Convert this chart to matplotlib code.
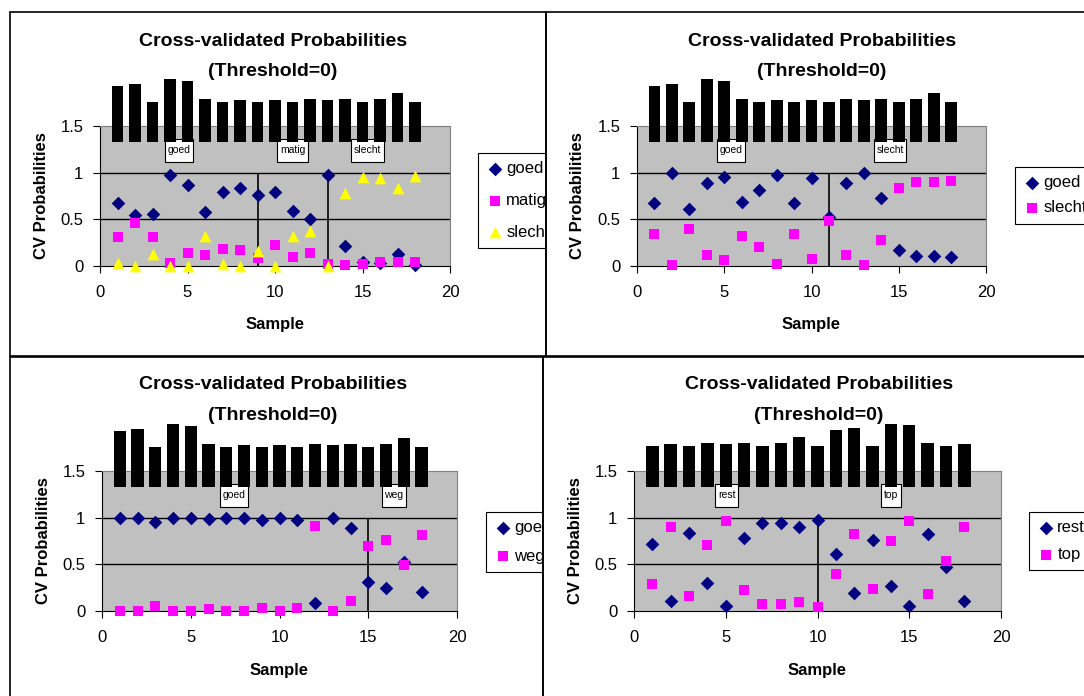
import numpy as np
import matplotlib.pyplot as plt
from matplotlib.patches import Rectangle
from matplotlib.path import Path

plt.rcParams['font.family'] = ['Liberation Sans', 'DejaVu Sans']

# sample numbers 1..18
samples = np.arange(1, 19)

# black blocks above each plot (sample name labels, rendered as black)
bar_base = 1.33
bar_top_a = [1.93, 1.95, 1.76, 2.0, 1.98, 1.79, 1.76, 1.78, 1.76,
             1.78, 1.76, 1.79, 1.78, 1.79, 1.76, 1.79, 1.85, 1.76]
bar_top_d = [1.77, 1.79, 1.77, 1.80, 1.79, 1.80, 1.77, 1.80, 1.86,
             1.77, 1.94, 1.96, 1.77, 2.0, 1.99, 1.80, 1.77, 1.79]

# chart 1: goed / matig / slecht
c1_goed = [0.67, 0.55, 0.56, 0.98, 0.87, 0.58, 0.79, 0.84, 0.76,
           0.79, 0.59, 0.50, 0.98, 0.21, 0.04, 0.035, 0.13, 0.01]
c1_matig = [0.31, 0.46, 0.31, 0.035, 0.14, 0.12, 0.18, 0.17, 0.085,
            0.22, 0.10, 0.14, 0.025, 0.01, 0.02, 0.04, 0.04, 0.04]
c1_slecht = [0.035, 0.0, 0.13, 0.0, 0.0, 0.32, 0.025, 0.0, 0.16,
             0.0, 0.32, 0.38, 0.0, 0.78, 0.95, 0.94, 0.84, 0.96]

# chart 2: goed / slecht
c2_goed = [0.67, 1.0, 0.61, 0.89, 0.95, 0.69, 0.81, 0.98, 0.67,
           0.94, 0.53, 0.89, 1.0, 0.73, 0.17, 0.11, 0.11, 0.10]
c2_slecht = [0.34, 0.01, 0.40, 0.12, 0.06, 0.32, 0.20, 0.025, 0.34,
             0.075, 0.48, 0.12, 0.01, 0.28, 0.84, 0.90, 0.90, 0.91]

# chart 3: goed / weg
c3_goed = [1.0, 1.0, 0.95, 1.0, 1.0, 0.985, 1.0, 1.0, 0.97,
           1.0, 0.97, 0.09, 1.0, 0.89, 0.31, 0.25, 0.525, 0.20]
c3_weg = [0.0, 0.0, 0.05, 0.0, 0.0, 0.02, 0.0, 0.0, 0.035,
          0.0, 0.035, 0.91, 0.0, 0.11, 0.70, 0.76, 0.49, 0.81]

# chart 4: rest / top
c4_rest = [0.72, 0.11, 0.84, 0.30, 0.05, 0.78, 0.94, 0.94, 0.90,
           0.975, 0.61, 0.19, 0.76, 0.27, 0.05, 0.83, 0.47, 0.11]
c4_top = [0.29, 0.90, 0.16, 0.71, 0.96, 0.225, 0.07, 0.07, 0.10,
          0.04, 0.40, 0.825, 0.24, 0.75, 0.96, 0.18, 0.54, 0.90]

W, H = 1084, 696
fig = plt.figure(figsize=(W / 100, H / 100), dpi=100)


def px_axes(left, right, top, bottom):
    return fig.add_axes([left / W, 1 - bottom / H, (right - left) / W, (bottom - top) / H])


def tall_box(x0, y0, width, height, mutation_size):
    px = 0.25 * mutation_size
    py = 0.6 * mutation_size
    x0, y0 = x0 - px, y0 - py
    x1, y1 = x0 + width + 2 * px, y0 + height + 2 * py
    return Path([(x0, y0), (x1, y0), (x1, y1), (x0, y1), (x0, y0)],
                [Path.MOVETO, Path.LINETO, Path.LINETO, Path.LINETO, Path.CLOSEPOLY])


MARK = {
    'D': dict(marker='D', color='#000080', s=48),
    's': dict(marker='s', color='#FF00FF', s=48),
    '^': dict(marker='^', color='#FFFF00', s=72),
}


def chart(rect, series, bar_top, groups, splits, legend_at, clip, title_x, title_y):
    ax = px_axes(*rect)
    ax.set_facecolor('#C0C0C0')
    ax.set_xlim(0, 20)
    ax.set_ylim(0, 1.5)
    ax.set_xticks([0, 5, 10, 15, 20])
    ax.set_yticks([0, 0.5, 1, 1.5])
    ax.set_yticklabels(['0', '0.5', '1', '1.5'])
    ax.tick_params(axis='both', labelsize=12, length=5, direction='out', color='black')
    ax.tick_params(axis='x', pad=9)
    ax.tick_params(axis='y', pad=7)
    for sp in ['top', 'right']:
        ax.spines[sp].set_color('#808080')
    for sp in ['left', 'bottom']:
        ax.spines[sp].set_color('black')
    ax.axhline(0.5, color='black', lw=1, zorder=1)
    ax.axhline(1.0, color='black', lw=1, zorder=1)
    ax.vlines(splits, 0, 1, color='black', lw=1.2, zorder=1)

    for name, vals, m in series:
        st = MARK[m]
        ax.scatter(samples, vals, marker=st['marker'], s=st['s'], color=st['color'],
                   linewidths=0, label=name, zorder=3, clip_on=False)

    bars = ax.bar(samples, np.array(bar_top) - bar_base, bottom=bar_base, width=0.68,
                  color='black', zorder=6)
    for b in bars:
        b.set_clip_on(False)

    for name, gx in groups:
        ax.text(gx, 1.24, name, ha='center', va='center', fontsize=7.5, zorder=5,
                bbox=dict(boxstyle=tall_box, fc='white', ec='black', lw=0.8))

    leg = ax.legend(loc='upper left', bbox_to_anchor=(legend_at[0] / W, 1 - legend_at[1] / H),
                    bbox_transform=fig.transFigure, fontsize=12, frameon=True,
                    fancybox=False, edgecolor='black', framealpha=1, borderpad=0.5,
                    labelspacing=legend_at[2], handletextpad=0.2, handlelength=1.0,
                    borderaxespad=0, scatterpoints=1)
    leg.get_frame().set_linewidth(0.8)
    clip_rect = Rectangle((0, 0), clip / W, 1, transform=fig.transFigure)
    for a in leg.findobj():
        a.set_clip_path(clip_rect)

    fig.text(title_x / W, 1 - title_y / H, 'Cross-validated Probabilities',
             ha='center', va='center', fontsize=14, fontweight='bold')
    fig.text(title_x / W, 1 - (title_y + 30) / H, '(Threshold=0)',
             ha='center', va='center', fontsize=14, fontweight='bold')
    mid_x = (rect[0] + rect[1]) / 2
    fig.text(mid_x / W, 1 - (rect[3] + 59) / H, 'Sample',
             ha='center', va='center', fontsize=12, fontweight='bold')
    fig.text((rect[0] - 59) / W, 1 - (rect[2] + rect[3]) / 2 / H, 'CV Probabilities',
             ha='center', va='center', rotation=90, fontsize=12, fontweight='bold')
    return ax


chart((100, 450, 126, 266),
      [('goed', c1_goed, 'D'), ('matig', c1_matig, 's'), ('slecht', c1_slecht, '^')],
      bar_top_a, [('goed', 4.5), ('matig', 11.0), ('slecht', 15.3)], [9, 13],
      (478, 153, 1.0), 546, 273, 41)

chart((637, 986, 126, 266),
      [('goed', c2_goed, 'D'), ('slecht', c2_slecht, 's')],
      bar_top_a, [('goed', 5.4), ('slecht', 14.5)], [11],
      (1015, 167, 0.6), W, 822, 41)

chart((102, 457, 471, 611),
      [('goed', c3_goed, 'D'), ('weg', c3_weg, 's')],
      bar_top_a, [('goed', 7.45), ('weg', 16.45)], [15],
      (486, 512, 0.8), 543, 273, 385)

chart((634, 1001, 471, 611),
      [('rest', c4_rest, 'D'), ('top', c4_top, 's')],
      bar_top_d, [('rest', 5.05), ('top', 14.0)], [10],
      (1029, 512, 0.7), W, 819, 385)

# chart frames
for (x0, y0, x1, y1) in [(10, 12, 546, 356), (546, 12, 1090, 356),
                         (10, 357, 543, 700), (543, 357, 1090, 700)]:
    fig.add_artist(Rectangle((x0 / W, 1 - y1 / H), (x1 - x0) / W, (y1 - y0) / H,
                             transform=fig.transFigure, fill=False, ec='black', lw=1.2))

fig.savefig('out.png', dpi=100)
